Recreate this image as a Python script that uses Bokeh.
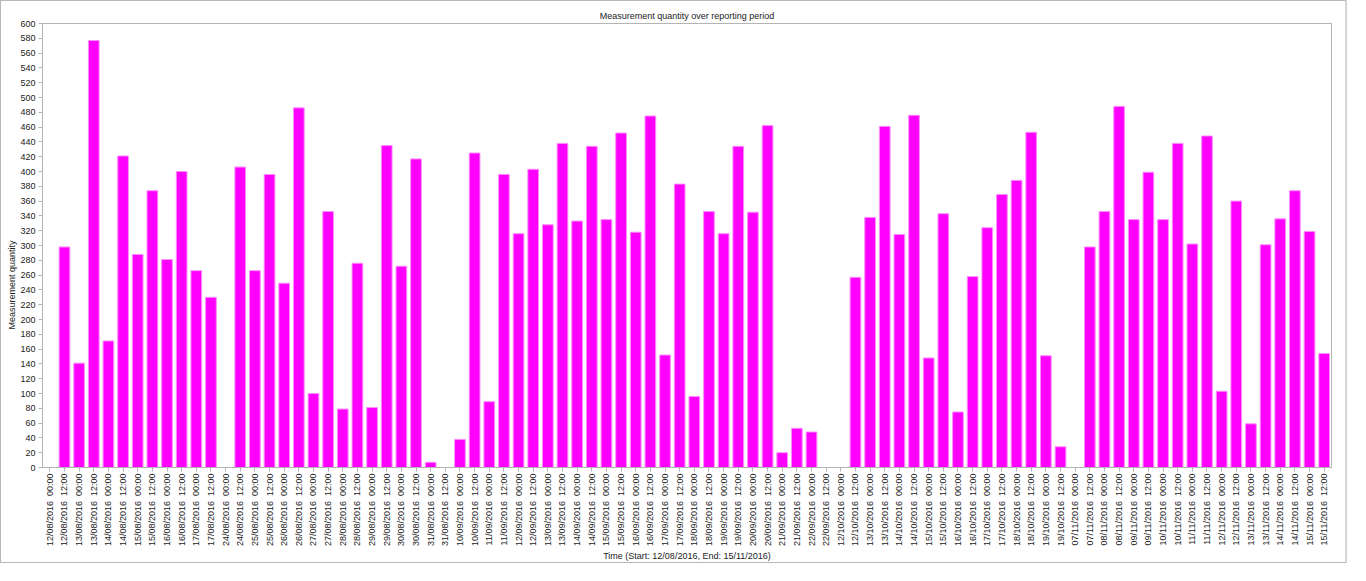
import math
from bokeh.plotting import figure
from bokeh.models import FactorRange, Range1d, FixedTicker, Title, ColumnDataSource
from bokeh.embed import file_html
from bokeh.resources import INLINE

days = [
    "12/08/2016", "13/08/2016", "14/08/2016", "15/08/2016", "16/08/2016", "17/08/2016",
    "24/08/2016", "25/08/2016", "26/08/2016", "27/08/2016", "28/08/2016", "29/08/2016",
    "30/08/2016", "31/08/2016",
    "10/09/2016", "11/09/2016", "12/09/2016", "13/09/2016", "14/09/2016", "15/09/2016",
    "16/09/2016", "17/09/2016", "18/09/2016", "19/09/2016", "20/09/2016", "21/09/2016",
    "22/09/2016",
    "12/10/2016", "13/10/2016", "14/10/2016", "15/10/2016", "16/10/2016", "17/10/2016",
    "18/10/2016", "19/10/2016",
    "07/11/2016", "08/11/2016", "09/11/2016", "10/11/2016", "11/11/2016", "12/11/2016",
    "13/11/2016", "14/11/2016", "15/11/2016",
]
times = ["00:00", "12:00"]

values = [
    0, 298, 141, 577, 171, 421, 288, 374, 281, 400, 266, 230,
    0, 406, 266, 396, 249, 486, 100, 346, 79, 276, 81, 435, 272, 417, 7, 0,
    38, 425, 89, 396, 316, 403, 328, 438, 333, 434, 335, 452, 318, 475, 152, 383,
    96, 346, 316, 434, 345, 462, 20, 53, 48, 0,
    0, 257, 338, 461, 315, 476, 148, 343, 75, 258, 324, 369, 388, 453, 151, 28,
    0, 298, 346, 488, 335, 399, 335, 438, 302, 448, 103, 360, 59, 301, 336, 374, 319, 154,
]

y_ticks = list(range(0, 601, 20))

title_text = "Measurement quantity over reporting period"
x_title = "Time (Start: 12/08/2016, End: 15/11/2016)"
y_title = "Measurement quantity"

labels = [d + "\u00a0\u00a0" + t for d in days for t in times]

FONT = "Liberation Sans"
TXT = "#222222"
GRAY = "#b4b4b4"

src = ColumnDataSource(dict(cat=labels, val=values))

p = figure(
    width=1347, height=563,
    x_range=FactorRange(*labels),
    y_range=Range1d(0, 600),
    output_backend="svg",
    toolbar_location=None,
    min_border_left=41, min_border_right=17, min_border_top=22, min_border_bottom=0,
    title=title_text,
)
p.styles = {"border-left": "1px solid #b8b8b8", "border-top": "1px solid #b8b8b8",
            "border-bottom": "1px solid #b8b8b8", "border-right": "2px solid #d4d4d4"}

p.vbar(x="cat", top="val", width=0.73, source=src,
       fill_color="#ff00ff", line_color="#ff8cff", line_width=1)

p.title.align = "center"
p.title.text_font = FONT
p.title.text_font_size = "9px"
p.title.text_font_style = "normal"
p.title.text_color = TXT
p.title.standoff = 5

ytitle = Title(text=y_title, align="left", offset=138, standoff=1,
               text_font_size="9px", text_font_style="normal", text_color=TXT)
ytitle.text_font = FONT
p.add_layout(ytitle, "left")

p.xgrid.grid_line_color = None
p.ygrid.grid_line_color = None
p.outline_line_color = GRAY
p.outline_line_width = 1

for ax in (p.xaxis[0], p.yaxis[0]):
    ax.axis_line_color = GRAY
    ax.major_tick_line_color = GRAY
    ax.major_tick_out = 4
    ax.major_tick_in = 0
    ax.minor_tick_line_color = None
    ax.major_label_text_font = FONT
    ax.major_label_text_font_size = "9px"
    ax.major_label_text_color = TXT

p.yaxis.ticker = FixedTicker(ticks=y_ticks)
p.yaxis.major_label_standoff = 3

p.xaxis.major_label_orientation = math.pi / 2
p.xaxis.major_label_standoff = 2
p.xaxis.axis_label = x_title
p.xaxis.axis_label_text_font = FONT
p.xaxis.axis_label_text_font_size = "9px"
p.xaxis.axis_label_text_font_style = "normal"
p.xaxis.axis_label_text_color = TXT
p.xaxis.axis_label_standoff = 2

open("out.html", "w").write(file_html(p, INLINE))
